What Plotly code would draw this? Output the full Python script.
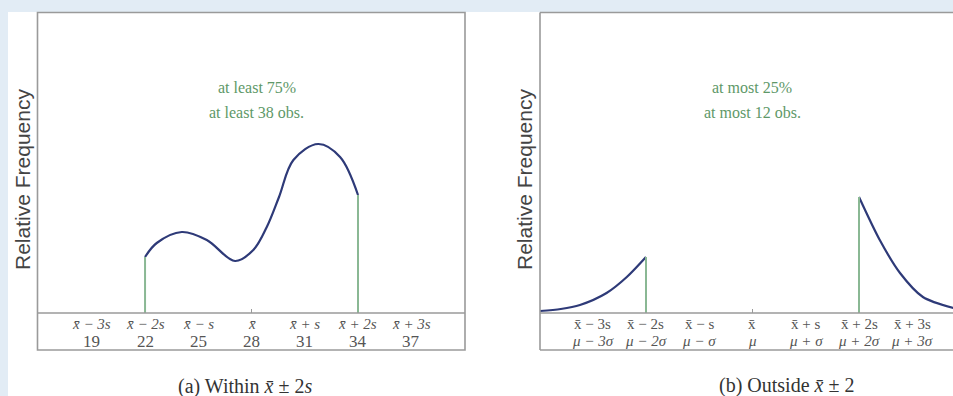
import plotly.graph_objects as go

W, H = 953, 396

# ---- data ----
# left panel (a): x in data units (19..37), y = relative frequency (arbitrary units)
left_x = [22.0, 22.66, 24.07, 25.48, 27.07, 28.1, 28.86, 29.55, 30.36, 31.76, 32.99, 34.0]
left_y = [56, 70, 81, 73, 52, 63, 86, 116, 153, 169, 156, 118]
left_ticks = [19, 22, 25, 28, 31, 34, 37]
left_row1 = ["x̄ − 3s", "x̄ − 2s", "x̄ − s", "x̄", "x̄ + s", "x̄ + 2s", "x̄ + 3s"]
left_row2 = ["19", "22", "25", "28", "31", "34", "37"]

# right panel (b): x in standard-deviation units
rl_x = [-3.99, -3.6, -3.24, -2.74, -2.36, -2.0]
rl_y = [2, 4, 8, 20, 36, 56]
rr_x = [2.0, 2.39, 2.77, 3.2, 3.77]
rr_y = [116, 73, 40, 16, 5]
right_ticks = [-3, -2, -1, 0, 1, 2, 3]
right_row1 = ["x̄ − 3s", "x̄ − 2s", "x̄ − s", "x̄", "x̄ + s", "x̄ + 2s", "x̄ + 3s"]
right_row2 = ["μ − 3σ", "μ − 2σ", "μ − σ", "μ", "μ + σ", "μ + 2σ", "μ + 3σ"]

# ---- layout helpers (pixel -> paper) ----
def px(x):
    return x / W

def py(y):
    return (H - y) / H

NAVY = "#2e3a78"
GREEN_LINE = "#8ab894"
GREEN_TXT = "#5e9868"
FRAME = "#9a9a9a"
SERIF = "Liberation Serif"
TICKC = "#555"

fig = go.Figure()

fig.add_trace(go.Scatter(x=left_x, y=left_y, mode="lines", line=dict(color=NAVY, width=2.2, shape="spline", smoothing=1.0),
                         xaxis="x", yaxis="y", hoverinfo="skip"))
fig.add_trace(go.Scatter(x=rl_x, y=rl_y, mode="lines", line=dict(color=NAVY, width=2.2, shape="spline", smoothing=0.8),
                         xaxis="x2", yaxis="y2", hoverinfo="skip"))
fig.add_trace(go.Scatter(x=rr_x, y=rr_y, mode="lines", line=dict(color=NAVY, width=2.2, shape="spline", smoothing=0.8),
                         xaxis="x2", yaxis="y2", hoverinfo="skip"))

# green vertical lines at the boundaries
for xv, yv in [(left_x[0], left_y[0]), (left_x[-1], left_y[-1])]:
    fig.add_trace(go.Scatter(x=[xv, xv], y=[0, yv], mode="lines", line=dict(color=GREEN_LINE, width=2),
                             xaxis="x", yaxis="y", hoverinfo="skip"))
for xv, yv in [(rl_x[-1], rl_y[-1]), (rr_x[0], rr_y[0])]:
    fig.add_trace(go.Scatter(x=[xv, xv], y=[0, yv], mode="lines", line=dict(color=GREEN_LINE, width=2),
                             xaxis="x2", yaxis="y2", hoverinfo="skip"))

shapes = []
# white panel background
shapes.append(dict(type="rect", xref="paper", yref="paper", x0=px(8), x1=1.0, y0=0, y1=py(12),
                   fillcolor="white", line=dict(width=0), layer="below"))
# left frame
shapes.append(dict(type="rect", xref="paper", yref="paper", x0=px(37.5), x1=px(465), y0=py(350), y1=py(12.5),
                   line=dict(color=FRAME, width=1.6), fillcolor="rgba(0,0,0,0)"))
shapes.append(dict(type="line", xref="paper", yref="paper", x0=px(37.5), x1=px(465), y0=py(313), y1=py(313),
                   line=dict(color=FRAME, width=1.6)))
# right frame (right edge beyond view)
for (x0, y0, x1, y1) in [(540, 12.5, 960, 12.5), (540, 12.5, 540, 350), (540, 350, 960, 350), (540, 313, 960, 313)]:
    shapes.append(dict(type="line", xref="paper", yref="paper", x0=px(x0), x1=px(x1), y0=py(y0), y1=py(y1),
                       line=dict(color=FRAME, width=1.6)))

annotations = []
for xv, t1, t2 in zip(left_ticks, left_row1, left_row2):
    annotations.append(dict(x=xv, xref="x", y=py(324), yref="paper", text="<i>" + t1 + "</i>", showarrow=False,
                            font=dict(family=SERIF, size=15, color=TICKC), xanchor="center", yanchor="middle"))
    annotations.append(dict(x=xv, xref="x", y=py(341), yref="paper", text=t2, showarrow=False,
                            font=dict(family=SERIF, size=17, color=TICKC), xanchor="center", yanchor="middle"))
for xv, t1, t2 in zip(right_ticks, right_row1, right_row2):
    annotations.append(dict(x=xv, xref="x2", y=py(324), yref="paper", text=t1, showarrow=False,
                            font=dict(family=SERIF, size=15, color=TICKC), xanchor="center", yanchor="middle"))
    annotations.append(dict(x=xv, xref="x2", y=py(341), yref="paper", text="<i>" + t2 + "</i>", showarrow=False,
                            font=dict(family=SERIF, size=15, color=TICKC), xanchor="center", yanchor="middle"))

TXT = dict(family=SERIF, size=16, color=GREEN_TXT)
annotations += [
    dict(x=28.3, xref="x", y=226, yref="y", text="at least 75%", showarrow=False, font=TXT),
    dict(x=28.3, xref="x", y=201, yref="y", text="at least 38 obs.", showarrow=False, font=TXT),
    dict(x=0.0, xref="x2", y=226, yref="y2", text="at most 25%", showarrow=False, font=TXT),
    dict(x=0.0, xref="x2", y=201, yref="y2", text="at most 12 obs.", showarrow=False, font=TXT),
    dict(x=px(22), xref="paper", y=py(180), yref="paper", text="Relative Frequency", textangle=-90, showarrow=False,
         xanchor="center", yanchor="middle", font=dict(family="Liberation Sans", size=21, color="#444")),
    dict(x=px(524), xref="paper", y=py(180), yref="paper", text="Relative Frequency", textangle=-90, showarrow=False,
         xanchor="center", yanchor="middle", font=dict(family="Liberation Sans", size=21, color="#444")),
    dict(x=px(245), xref="paper", y=py(386), yref="paper", text="(a) Within <i>x̄</i> ± 2<i>s</i>", showarrow=False,
         font=dict(family=SERIF, size=20, color="#333"), xanchor="center", yanchor="middle"),
    dict(x=px(786), xref="paper", y=py(385), yref="paper", text="(b) Outside <i>x̄</i> ± 2", showarrow=False,
         font=dict(family=SERIF, size=20, color="#333"), xanchor="center", yanchor="middle"),
]

ydom = [py(313), py(12.5)]
fig.update_layout(
    width=W, height=H, margin=dict(l=0, r=0, t=0, b=0),
    paper_bgcolor="#e2ecf5", plot_bgcolor="rgba(0,0,0,0)", showlegend=False,
    xaxis=dict(domain=[px(37.5), px(465)], range=[15.94, 40.03], showgrid=False, zeroline=False, showline=False,
               tickvals=[28], ticks="inside", ticklen=4, tickcolor=FRAME, showticklabels=False, fixedrange=True),
    yaxis=dict(domain=ydom, range=[0, 300.5], visible=False, fixedrange=True),
    xaxis2=dict(domain=[px(540), 1.0], range=[-3.99, 3.765], anchor="y2", showgrid=False, zeroline=False,
                showline=False, tickvals=[0], ticks="inside", ticklen=4, tickcolor=FRAME, showticklabels=False,
                fixedrange=True),
    yaxis2=dict(domain=ydom, range=[0, 300.5], anchor="x2", visible=False, fixedrange=True),
    shapes=shapes, annotations=annotations,
)

fig.write_html("out.html")
